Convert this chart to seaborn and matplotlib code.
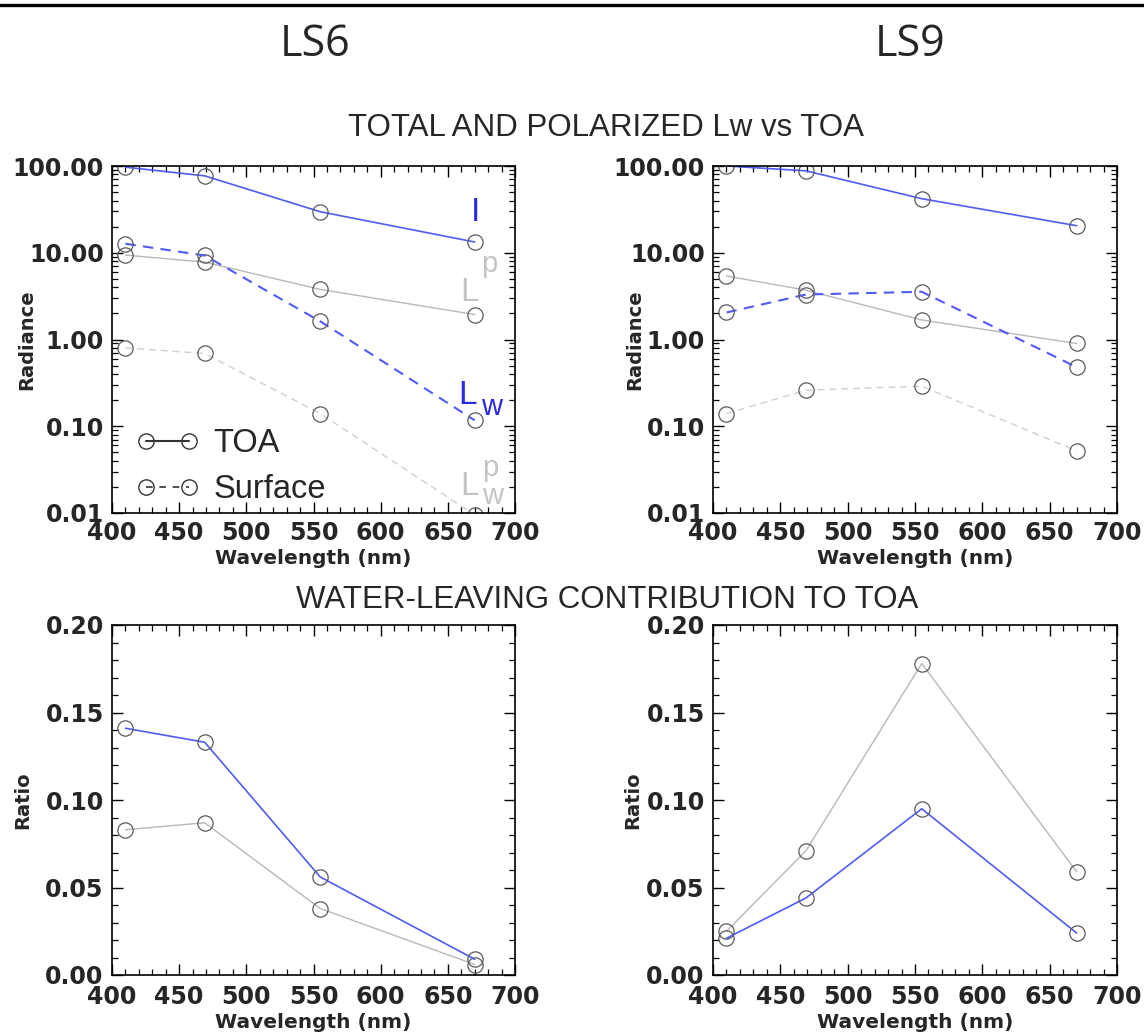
import matplotlib
matplotlib.use("Agg")
import numpy as np
import pandas as pd
import seaborn as sns
import matplotlib.pyplot as plt
from matplotlib.lines import Line2D
from matplotlib.ticker import MultipleLocator, LogLocator, FormatStrFormatter, NullFormatter

# ---------------- data ----------------
wavelength = [410, 469, 555, 670]

ls6_toa_total = [97.0, 77.0, 29.7, 13.3]
ls6_surf_total = [12.7, 9.3, 1.62, 0.117]
ls6_toa_pol = [9.4, 7.8, 3.78, 1.94]
ls6_surf_pol = [0.80, 0.69, 0.14, 0.0095]

ls9_toa_total = [100.0, 88.0, 42.0, 20.5]
ls9_surf_total = [2.05, 3.3, 3.55, 0.48]
ls9_toa_pol = [5.4, 3.7, 1.68, 0.90]
ls9_surf_pol = [0.14, 0.26, 0.29, 0.052]

ls6_ratio_total = [0.141, 0.133, 0.056, 0.009]
ls6_ratio_pol = [0.083, 0.087, 0.038, 0.006]
ls9_ratio_total = [0.021, 0.044, 0.095, 0.024]
ls9_ratio_pol = [0.025, 0.071, 0.178, 0.059]

column_titles = ["LS6", "LS9"]
row_titles = ["TOTAL AND POLARIZED Lw vs TOA", "WATER-LEAVING CONTRIBUTION TO TOA"]
legend_labels = ["TOA", "Surface"]

# ---------------- style ----------------
sns.set_theme(style="ticks")
plt.rcParams["font.family"] = ["DejaVu Sans"]

BLUE = "#4f5cf5"
BLUE_TXT = "#2a2ae6"
GRAY = "#b8b8b8"
GRAY_DASH = "#cfcfcf"
GRAY_TXT = "#c4c4c4"
MEC = "#5a5a5a"
MS = 11

fig = plt.figure(figsize=(11.44, 10.34), dpi=100)

W = 1144.0
H = 1034.0


def axes_at(x0, x1, y0, y1):
    return fig.add_axes([x0 / W, 1 - y1 / H, (x1 - x0) / W, (y1 - y0) / H])


ax_tl = axes_at(112, 515, 166, 513)
ax_tr = axes_at(713, 1117, 166, 513)
ax_bl = axes_at(112, 515, 625, 975)
ax_br = axes_at(713, 1117, 625, 975)


def draw(ax, y, color, ls, lw):
    df = pd.DataFrame({"Wavelength": wavelength, "value": y})
    sns.lineplot(data=df, x="Wavelength", y="value", ax=ax, color=color,
                 linestyle=ls, linewidth=lw, marker="o", markersize=MS,
                 markerfacecolor="none", markeredgecolor=MEC,
                 markeredgewidth=0.9, legend=False)


DASH = (0, (5, 3.5))

# top panels
for ax, toa_t, surf_t, toa_p, surf_p in [
    (ax_tl, ls6_toa_total, ls6_surf_total, ls6_toa_pol, ls6_surf_pol),
    (ax_tr, ls9_toa_total, ls9_surf_total, ls9_toa_pol, ls9_surf_pol),
]:
    ax.set_yscale("log")
    draw(ax, toa_p, GRAY, "-", 1.0)
    draw(ax, surf_p, GRAY_DASH, DASH, 1.0)
    draw(ax, toa_t, BLUE, "-", 1.2)
    draw(ax, surf_t, BLUE, DASH, 1.5)
    ax.set_ylim(0.01, 100)
    ax.yaxis.set_major_locator(LogLocator(base=10, numticks=10))
    ax.yaxis.set_minor_locator(LogLocator(base=10, subs=np.arange(2, 10), numticks=20))
    ax.yaxis.set_major_formatter(FormatStrFormatter("%.2f"))
    ax.yaxis.set_minor_formatter(NullFormatter())
    ax.set_ylabel("Radiance", fontsize=14, fontweight="bold")

# bottom panels
for ax, rt, rp in [
    (ax_bl, ls6_ratio_total, ls6_ratio_pol),
    (ax_br, ls9_ratio_total, ls9_ratio_pol),
]:
    draw(ax, rp, GRAY, "-", 1.0)
    draw(ax, rt, BLUE, "-", 1.2)
    ax.set_ylim(0, 0.2)
    ax.yaxis.set_major_locator(MultipleLocator(0.05))
    ax.yaxis.set_minor_locator(MultipleLocator(0.01))
    ax.yaxis.set_major_formatter(FormatStrFormatter("%.2f"))
    ax.set_ylabel("Ratio", fontsize=14, fontweight="bold")

# y-label positions (axes fraction; right edge of the rotated label)
ax_tl.yaxis.set_label_coords((36 - 112) / 403, 0.5)
ax_tr.yaxis.set_label_coords((644 - 713) / 404, 0.5)
ax_bl.yaxis.set_label_coords((32 - 112) / 403, 0.5)
ax_br.yaxis.set_label_coords((642 - 713) / 404, 0.5)

for ax in [ax_tl, ax_tr, ax_bl, ax_br]:
    ax.set_xlim(400, 700)
    ax.xaxis.set_major_locator(MultipleLocator(50))
    ax.xaxis.set_minor_locator(MultipleLocator(10))
    ax.set_xlabel("Wavelength (nm)", fontsize=14.5, fontweight="bold", labelpad=3)
    ax.tick_params(which="both", direction="in", top=True, right=True, color="black")
    ax.tick_params(which="major", length=8, width=1.0, labelsize=17, pad=6)
    ax.tick_params(which="minor", length=4, width=0.9)
    for lab in ax.get_xticklabels() + ax.get_yticklabels():
        lab.set_fontweight("bold")
    for s in ax.spines.values():
        s.set_linewidth(1.2)
        s.set_color("black")
    ax.grid(False)

for ax in [ax_bl, ax_br]:
    ax.tick_params(axis="x", which="major", pad=7)

# legend in top-left panel
handles = [
    Line2D([], [], color="#333333", linestyle="-", linewidth=1.5, marker="o",
           markersize=MS, markerfacecolor="none", markeredgecolor="#333333"),
    Line2D([], [], color="#333333", linestyle=(0, (4, 4)), linewidth=1.2, marker="o",
           markersize=MS, markerfacecolor="none", markeredgecolor="#333333"),
]
ax_tl.legend(handles, legend_labels, loc="lower left", bbox_to_anchor=(-0.012, -0.062),
             frameon=False, numpoints=2, handlelength=1.9, handletextpad=0.45,
             labelspacing=0.45, prop={"family": "Liberation Sans", "size": 23.5})

# series labels in top-left panel
lab_font = {"family": "Liberation Sans", "size": 24}
sub_font = {"family": "Liberation Sans", "size": 21}
ax_tl.text(0.903, 0.865, "I", color=BLUE_TXT, ha="center", va="center",
           transform=ax_tl.transAxes, **lab_font)
ax_tl.text(0.888, 0.635, "L", color=GRAY_TXT, ha="center", va="center",
           transform=ax_tl.transAxes, **lab_font)
ax_tl.text(0.935, 0.718, "p", color=GRAY_TXT, ha="center", va="center",
           transform=ax_tl.transAxes, **sub_font)
ax_tl.text(0.883, 0.340, "L", color=BLUE_TXT, ha="center", va="center",
           transform=ax_tl.transAxes, **lab_font)
ax_tl.text(0.942, 0.305, "w", color=BLUE_TXT, ha="center", va="center",
           transform=ax_tl.transAxes, **sub_font)
ax_tl.text(0.888, 0.075, "L", color=GRAY_TXT, ha="center", va="center",
           transform=ax_tl.transAxes, **lab_font)
ax_tl.text(0.944, 0.050, "w", color=GRAY_TXT, ha="center", va="center",
           transform=ax_tl.transAxes, **sub_font)
ax_tl.text(0.938, 0.130, "p", color=GRAY_TXT, ha="center", va="center",
           transform=ax_tl.transAxes, **sub_font)

# headings
fig.text(315 / W, 1 - 45 / H, column_titles[0], ha="center", va="center",
         fontsize=31, family=["Open Sans", "DejaVu Sans"])
fig.text(910 / W, 1 - 45 / H, column_titles[1], ha="center", va="center",
         fontsize=31, family=["Open Sans", "DejaVu Sans"])
fig.text(606 / W, 1 - 128 / H, row_titles[0], ha="center", va="center",
         fontsize=22.5, family=["Liberation Sans", "DejaVu Sans"])
fig.text(607 / W, 1 - 600 / H, row_titles[1], ha="center", va="center",
         fontsize=22.5, family=["Liberation Sans", "DejaVu Sans"])

# top rule
fig.add_artist(Line2D([0, 1], [1 - 5 / H, 1 - 5 / H], transform=fig.transFigure,
                      color="black", linewidth=2.4))

fig.savefig("out.png", dpi=100, facecolor="white")
